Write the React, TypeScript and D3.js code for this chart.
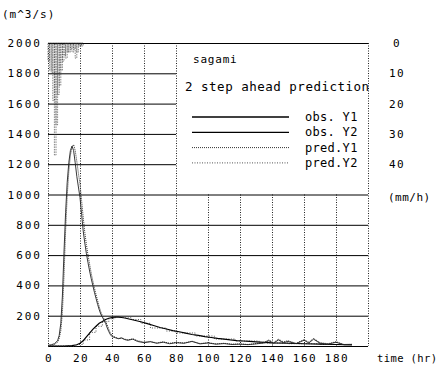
import React, { useEffect, useRef } from 'react';
import * as d3 from 'd3';

// flow (m^3/s), hourly-ish samples
const tY1 = [0, 2, 4, 6, 7, 8, 9, 10, 11, 12, 13, 14, 15, 16, 17, 18, 19, 20, 21, 22, 23, 24, 25, 26, 27, 28, 29, 30, 31, 32, 33, 34, 35, 36, 37, 38, 39, 40, 42, 44, 46, 48, 50, 53, 56, 60, 64, 68, 72, 76, 80, 85, 90, 95, 100, 105, 110, 115, 120, 125, 130, 135, 138, 141, 144, 147, 150, 155, 160, 163, 166, 170, 175, 180, 185, 190];
const obsY1 = [5, 8, 15, 35, 70, 150, 330, 620, 880, 1080, 1210, 1290, 1320, 1290, 1210, 1120, 1050, 980, 870, 760, 680, 610, 550, 495, 445, 400, 355, 315, 275, 240, 210, 190, 170, 150, 120, 95, 75, 62, 55, 48, 52, 42, 38, 45, 30, 22, 28, 18, 25, 15, 22, 18, 30, 14, 20, 12, 16, 10, 12, 9, 14, 20, 35, 18, 40, 22, 30, 15, 38, 20, 45, 18, 12, 25, 8, 10];
const predY1 = [0, 3, 10, 25, 50, 100, 220, 460, 760, 990, 1150, 1260, 1310, 1330, 1290, 1220, 1140, 1070, 960, 850, 750, 670, 600, 540, 480, 430, 385, 340, 300, 260, 225, 200, 180, 160, 140, 110, 85, 70, 58, 50, 55, 45, 40, 48, 35, 25, 30, 20, 28, 18, 24, 20, 32, 16, 22, 14, 18, 12, 14, 10, 16, 25, 40, 22, 45, 28, 35, 18, 42, 25, 50, 22, 15, 28, 10, 12];

const tY2 = [0, 10, 15, 18, 20, 22, 24, 26, 28, 30, 32, 34, 36, 38, 40, 42, 44, 46, 48, 50, 54, 58, 62, 66, 70, 74, 78, 82, 86, 90, 94, 98, 102, 106, 110, 114, 118, 122, 126, 130, 135, 140, 150, 160, 170, 180, 190];
const obsY2 = [0, 0, 2, 8, 18, 35, 60, 85, 110, 130, 150, 162, 175, 183, 188, 190, 190, 188, 185, 180, 170, 160, 148, 135, 122, 112, 102, 94, 85, 76, 70, 62, 56, 50, 45, 40, 36, 33, 30, 27, 24, 21, 18, 15, 12, 10, 8];

const tPredY2 = [0, 14, 18, 22, 26, 30, 34, 38, 42, 46, 52, 58, 64, 74, 80, 92, 104, 117, 132, 150, 170, 190];
const predY2 = [0, 0, 10, 40, 90, 130, 160, 180, 195, 190, 175, 150, 119, 99, 86, 66, 46, 33, 20, 15, 10, 10];

// rainfall (mm/h), one bar per hour from t = 0
const rain = [6, 9, 10, 19, 37, 27, 17, 14, 9, 6, 4, 5, 3, 3, 2, 3, 2, 5, 3, 1, 1, 1];

const flowTicks = [200, 400, 600, 800, 1000, 1200, 1400, 1600, 1800, 2000];
const timeTicks = [0, 20, 40, 60, 80, 100, 120, 140, 160, 180];
const rainTicks = [0, 10, 20, 30, 40];

const legendNames = ['obs. Y1', 'obs. Y2', 'pred.Y1', 'pred.Y2'];

const FONT = '"DejaVu Sans Mono", monospace';

export default function App() {
  const svgRef = useRef<SVGSVGElement>(null);

  useEffect(() => {
    if (!svgRef.current) return;
    const svg = d3.select(svgRef.current);
    svg.selectAll('*').remove();

    const left = 48, right = 368, top = 43, bottom = 346;
    const x = d3.scaleLinear().domain([0, 200]).range([left, right]);
    const y = d3.scaleLinear().domain([0, 2000]).range([bottom, top]);
    const yr = d3.scaleLinear().domain([0, 100]).range([top, bottom]);

    const legendX = x(80);
    const legendBottom = y(1000);

    // vertical dotted grid
    const vg = svg.append('g').attr('stroke', '#222').attr('stroke-width', 1).attr('stroke-dasharray', '1,1.5');
    [0, ...timeTicks.slice(1), 200].forEach(t => {
      vg.append('line')
        .attr('x1', x(t) + 0.5).attr('x2', x(t) + 0.5)
        .attr('y1', t > 80 && t < 200 ? legendBottom : top)
        .attr('y2', bottom);
    });

    // horizontal solid grid (upper ones stop at the legend area)
    const hg = svg.append('g').attr('stroke', '#000').attr('stroke-width', 1);
    [0, ...flowTicks].forEach(v => {
      const x2 = v > 1000 && v < 2000 ? legendX : right;
      hg.append('line')
        .attr('x1', left).attr('x2', x2)
        .attr('y1', y(v) + 0.5).attr('y2', y(v) + 0.5);
    });

    // rainfall bars hanging from the top
    const rg = svg.append('g');
    rain.forEach((r, i) => {
      rg.append('rect')
        .attr('x', x(i))
        .attr('y', top)
        .attr('width', x(i + 1) - x(i))
        .attr('height', yr(r) - top)
        .attr('fill', 'none')
        .attr('stroke', '#333')
        .attr('stroke-width', 0.6)
        .attr('stroke-dasharray', '1.5,1');
    });

    const line = (ts: number[]) => d3.line<number>()
      .x((_, i) => x(ts[i]))
      .y(d => y(d));

    svg.append('path').datum(predY2)
      .attr('fill', 'none').attr('stroke', '#555').attr('stroke-width', 1)
      .attr('stroke-dasharray', '1,1.5')
      .attr('d', line(tPredY2).curve(d3.curveStepAfter));

    svg.append('path').datum(obsY2)
      .attr('fill', 'none').attr('stroke', '#000').attr('stroke-width', 1.2)
      .attr('d', line(tY2));

    svg.append('path').datum(predY1)
      .attr('fill', 'none').attr('stroke', '#333').attr('stroke-width', 1)
      .attr('stroke-dasharray', '1,1')
      .attr('d', line(tY1));

    svg.append('path').datum(obsY1)
      .attr('fill', 'none').attr('stroke', '#222').attr('stroke-width', 0.9)
      .attr('d', line(tY1));

    // axis labels
    const txt = svg.append('g').attr('font-family', FONT).attr('fill', '#000');

    txt.append('text').attr('x', 2).attr('y', 18).attr('font-size', 11).attr('letter-spacing', 1).text('(m^3/s)');

    flowTicks.forEach(v => {
      txt.append('text')
        .attr('x', 42).attr('y', y(v) + 4)
        .attr('text-anchor', 'end')
        .attr('font-size', 11).attr('letter-spacing', 2)
        .text(v);
    });

    timeTicks.forEach(t => {
      txt.append('text')
        .attr('x', x(t) + 1).attr('y', 362)
        .attr('text-anchor', 'middle')
        .attr('font-size', 11).attr('letter-spacing', 1.5)
        .text(t);
    });
    txt.append('text').attr('x', 377).attr('y', 362).attr('font-size', 10.5).attr('letter-spacing', 0.4).text('time (hr)');

    rainTicks.forEach(r => {
      txt.append('text')
        .attr('x', 397).attr('y', yr(r) + 4)
        .attr('text-anchor', 'middle')
        .attr('font-size', 11).attr('letter-spacing', 1.5)
        .text(r);
    });
    txt.append('text').attr('x', 388).attr('y', 201).attr('font-size', 11).attr('letter-spacing', 0.5).text('(mm/h)');

    // legend
    txt.append('text').attr('x', 193).attr('y', 63).attr('font-size', 11).attr('letter-spacing', 0.8).text('sagami');
    txt.append('text').attr('x', 185).attr('y', 91).attr('font-size', 12.5).attr('letter-spacing', 0.5).text('2 step ahead prediction');

    const legendStyles = [
      { w: 1.6, dash: null, c: '#000' },
      { w: 1.3, dash: null, c: '#000' },
      { w: 1, dash: '1,1', c: '#333' },
      { w: 1, dash: '1,1.5', c: '#555' },
    ];
    legendNames.forEach((name, i) => {
      const ly = 117 + i * 15.3;
      const s = legendStyles[i];
      const l = svg.append('line')
        .attr('x1', 192).attr('x2', 289)
        .attr('y1', ly).attr('y2', ly)
        .attr('stroke', s.c).attr('stroke-width', s.w);
      if (s.dash) l.attr('stroke-dasharray', s.dash);
      txt.append('text')
        .attr('x', 305).attr('y', ly + 4)
        .attr('font-size', 12).attr('letter-spacing', 0.3)
        .text(name);
    });
  }, []);

  return (
    <svg
      ref={svgRef}
      width={442}
      height={374}
      style={{ position: 'absolute', left: 0, top: 0, background: '#fff' }}
    />
  );
}
